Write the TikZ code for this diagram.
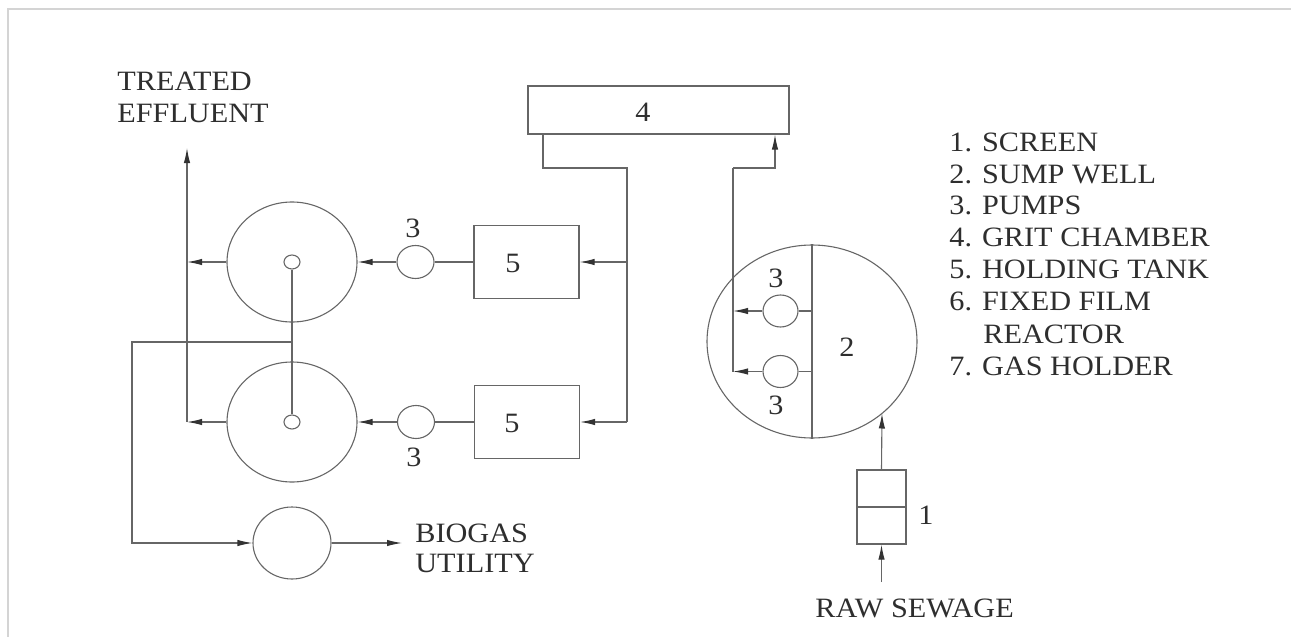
\documentclass[tikz,border=0pt]{standalone}
\usepackage{fontspec}
\setmainfont{Liberation Serif}[FakeStretch=1.08]
\usetikzlibrary{arrows.meta,shapes.geometric}
\definecolor{ln}{HTML}{666666}
\definecolor{tx}{HTML}{2E2E2E}
\definecolor{fr}{HTML}{D4D4D4}
\definecolor{ah}{HTML}{333333}
\tikzset{
  ln/.style={draw=ln,line width=0.55pt},
  arr/.style={ln,-{Latex[length=7.5pt,width=3.2pt,color=ah]}},
  ell/.style={ellipse,ln,inner sep=0pt},
  boxs/.style={rectangle,ln,inner sep=0pt},
  txt/.style={text=tx,font=\fontsize{14}{16}\selectfont,inner sep=0pt},
  lbl/.style={txt,anchor=base west},
}
\begin{document}
\begin{tikzpicture}[x=0.5pt,y=-0.5pt]
\useasboundingbox (0,0) rectangle (1291,637);
\draw[fr,line width=0.6pt] (8,637) -- (8,9) -- (1291,9);

% reactors
\node[ell,minimum width=65pt,minimum height=60pt] (R1) at (292,262) {};
\node[ell,minimum width=65pt,minimum height=60pt] (R2) at (292,422) {};
\node[ell,minimum width=8pt,minimum height=7pt] (c1) at (292,262) {};
\node[ell,minimum width=8pt,minimum height=7pt] (c2) at (292,422) {};
% gas holder
\node[ell,minimum width=39pt,minimum height=36pt] (G) at (292,543) {};
% pumps
\node[ell,minimum width=18.5pt,minimum height=16.5pt] (P1) at (415.5,262) {};
\node[ell,minimum width=18.5pt,minimum height=16.5pt] (P2) at (416,422) {};
% holding tanks
\node[boxs,minimum width=52.5pt,minimum height=36.5pt] (T1) at (526.5,262) {};
\node[boxs,minimum width=52.5pt,minimum height=36.5pt] (T2) at (527,422) {};
% grit chamber
\node[boxs,minimum width=130.5pt,minimum height=24pt] (B4) at (658.5,110) {};
% sump well
\node[ell,minimum width=105pt,minimum height=96.5pt] (S) at (812,341.5) {};
\node[ell,minimum width=17.5pt,minimum height=16pt] (SP1) at (780.5,311) {};
\node[ell,minimum width=17.5pt,minimum height=16pt] (SP2) at (780.5,371.5) {};
% screen
\node[boxs,minimum width=24.5pt,minimum height=37pt] (SC) at (881.5,507) {};

% coordinates for connector corners / free ends
\coordinate (a1) at (543,168);
\coordinate (a2) at (627,168);
\coordinate (a3) at (627,422);
\coordinate (b1) at (733,168);
\coordinate (b2) at (775,168);
\coordinate (e1) at (187,148);
\coordinate (g1) at (292,342);
\coordinate (g2) at (132,342);
\coordinate (bio) at (402,543);
\coordinate (sIn) at (882,413.5);
\coordinate (rs) at (881.5,582);

% connectors
\draw[ln] (B4.south -| a1) -- (a1) -- (a2) -- (a3);
\draw[arr] (T1 -| a2) -- (T1.east);
\draw[arr] (T2 -| a3) -- (T2.east);
\draw[ln] (P1.east) -- (T1.west);
\draw[ln] (P2.east) -- (T2.west);
\draw[arr] (P1.west) -- (R1.east);
\draw[arr] (P2.west) -- (R2.east);
\draw[arr] (R1.west) -- (R1 -| e1);
\draw[arr] (R2.west) -- (R2 -| e1);
\draw[arr] (R2 -| e1) -- (e1);
\draw[ln] (c1.south) -- (c2.north);
\draw[arr] (g1) -- (g2) |- (G.west);
\draw[arr] (G.east) -- (bio);
\draw[ln] (S.north) -- (S.south);
\draw[ln] (SP1.east) -- (SP1 -| S.north);
\draw[ln] (SP2.east) -- (SP2 -| S.north);
\draw[ln] (SP2 -| b1) -- (b1);
\draw[arr] (b1) -- (b2) -- (b2 |- B4.south);
\draw[arr] (SP1.west) -- (SP1 -| b1);
\draw[arr] (SP2.west) -- (SP2 -| b1);
\draw[ln] (SC.west) -- (SC.east);
\draw[arr] (SC.north) -- (sIn);
\draw[arr] (rs) -- (SC.south);

% labels
\node[txt] (l4) at (643,112) {4};
\node[txt] (l5a) at (513,263) {5};
\node[txt] (l5b) at (512,423) {5};
\node[txt] (l3a) at (413,228) {3};
\node[txt] (l3b) at (414,457) {3};
\node[txt] (l3c) at (776,278) {3};
\node[txt] (l3d) at (776,405) {3};
\node[txt] (l2) at (847,347) {2};
\node[txt] (l1) at (926,515) {1};

\node[lbl] (te1) at (117,90) {TREATED};
\node[lbl] (te2) at (117,122) {EFFLUENT};
\node[lbl] (bu1) at (415,542) {BIOGAS};
\node[lbl] (bu2) at (415,572) {UTILITY};
\node[lbl] (rw) at (815,617) {RAW SEWAGE};

\node[lbl] (k1) at (949,151) {1. SCREEN};
\node[lbl] (k2) at (949,183) {2. SUMP WELL};
\node[lbl] (k3) at (949,214) {3. PUMPS};
\node[lbl] (k4) at (949,246) {4. GRIT CHAMBER};
\node[lbl] (k5) at (949,278) {5. HOLDING TANK};
\node[lbl] (k6) at (949,310) {6. FIXED FILM};
\node[lbl] (k6b) at (983,343) {REACTOR};
\node[lbl] (k7) at (949,375) {7. GAS HOLDER};
\end{tikzpicture}
\end{document}
